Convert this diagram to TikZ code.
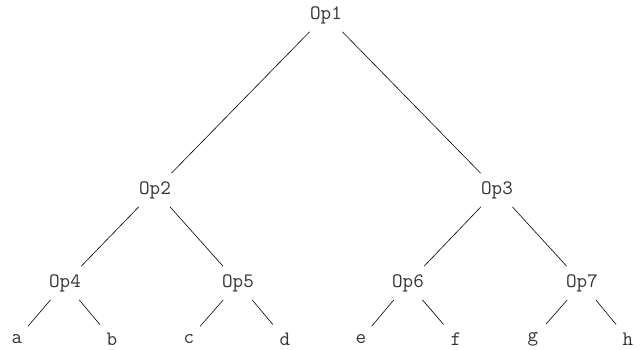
\documentclass[tikz,border=0pt]{standalone}
\usetikzlibrary{positioning}

\begin{document}
\begin{tikzpicture}[
        x=1pt, y=-1pt,
        op/.style={inner sep=8pt, text=black!80, font=\ttfamily\fontsize{20.5}{20.5}\selectfont},
        edge/.style={draw, line width=0.6pt},
    ]
        \useasboundingbox (0,0) rectangle (640,349);
        \node[op] (op1) at (326,15) {Op1};
        \node[op] (op2) at (155,190) {Op2};
        \node[op] (op3) at (497,190) {Op3};
        \node[op] (op4) at (65,283) {Op4};
        \node[op] (op5) at (238,283) {Op5};
        \node[op] (op6) at (408,283) {Op6};
        \node[op] (op7) at (582,283) {Op7};
        \node[op] (a) at (17,339) {a};
        \node[op] (b) at (112,339) {b};
        \node[op] (c) at (189,339) {c};
        \node[op] (d) at (285,339) {d};
        \node[op] (e) at (361,339) {e};
        \node[op] (f) at (456,339) {f};
        \node[op] (g) at (533,339) {g};
        \node[op] (h) at (628,339) {h};
        \draw[edge] (op1) -- (op2);
        \draw[edge] (op1) -- (op3);
        \draw[edge] (op2) -- (op4);
        \draw[edge] (op2) -- (op5);
        \draw[edge] (op3) -- (op6);
        \draw[edge] (op3) -- (op7);
        \draw[edge] (op4) -- (a);
        \draw[edge] (op4) -- (b);
        \draw[edge] (op5) -- (c);
        \draw[edge] (op5) -- (d);
        \draw[edge] (op6) -- (e);
        \draw[edge] (op6) -- (f);
        \draw[edge] (op7) -- (g);
        \draw[edge] (op7) -- (h);
    \end{tikzpicture}
\end{document}
